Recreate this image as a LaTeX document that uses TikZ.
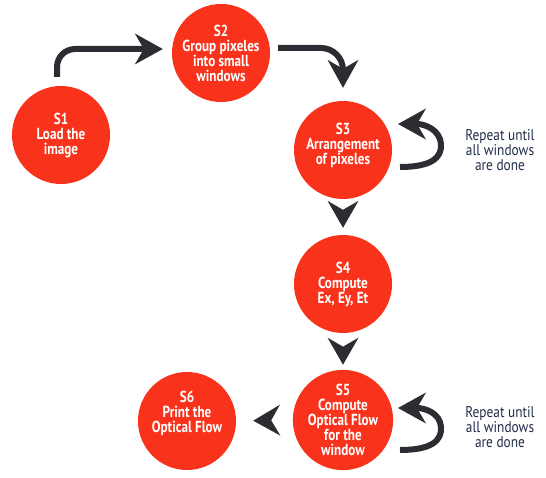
\documentclass[tikz,border=0pt]{standalone}
\usepackage{fontspec}
\setmainfont{PT Sans}[FakeStretch=0.82]
\newfontfamily\labelfont{PT Sans}[FakeStretch=0.86]
\usetikzlibrary{arrows.meta,calc,decorations.markings}
\definecolor{stepred}{HTML}{F9321C}
\definecolor{arrowdark}{HTML}{2B2D33}
\definecolor{labelblue}{HTML}{1F2B48}
\tikzset{
  stepnode/.style={circle,fill=stepred,draw=none,minimum size=98pt,inner sep=0pt,
    text=white,align=center,font=\fontsize{16}{15}\selectfont\bfseries},
  conn/.style={draw=arrowdark,line width=6pt,
    -{Stealth[length=28pt,width=31pt,inset=9pt,line width=0pt]}},
  headonly/.style={decoration={markings,
    mark=at position -#1 with {\arrow[arrowdark]{Stealth[length=27pt,width=31pt,inset=9pt,line width=0pt]}}},
    decorate},
  notetext/.style={text=labelblue,align=center,font=\labelfont\fontsize{15.5}{15}\selectfont}
}
\begin{document}
\begin{tikzpicture}[x=1pt,y=-1pt]
\useasboundingbox (0,0) rectangle (546,478);
\node[stepnode] (s1) at (61,135) {S1\\Load the\\image};
\node[stepnode] (s2) at (221,53) {S2\\Group pixeles\\into small\\windows};
\node[stepnode,text depth=12pt] (s3) at (343,150) {S3\\Arrangement\\of pixeles};
\node[stepnode] (s4) at (343,284) {S4\\Compute\\Ex, Ey, Et};
\node[stepnode] (s5) at (343,420) {S5\\Compute\\Optical Flow\\for the\\window};
\node[stepnode,text depth=18pt] (s6) at (187,421) {S6\\Print the\\Optical Flow};
\node[notetext] (n3) at (500,150) {Repeat until\\all windows\\are done};
\node[notetext] (n5) at (500,427) {Repeat until\\all windows\\are done};
% S1 -> S2
\draw[conn,rounded corners=18pt] ($(s1.north)+(-4,-9)$) |- ($(s2.west)+(-9,-4)$);
% S2 -> S3
\draw[conn,rounded corners=22pt] ($(s2.east)+(8,-5)$) -| ($(s3.north)+(0,-13)$);
% S3 loop
\draw[conn] ($(s3)+(57,17)$) .. controls ($(s3)+(88,17)$) and ($(s3)+(99,8)$) .. ($(s3)+(98,-6)$)
  .. controls ($(s3)+(97,-20)$) and ($(s3)+(82,-26)$) .. ($(s3)+(55,-26)$);
% S5 loop
\draw[conn] ($(s5)+(57,30)$) .. controls ($(s5)+(88,30)$) and ($(s5)+(99,21)$) .. ($(s5)+(98,7)$)
  .. controls ($(s5)+(97,-7)$) and ($(s5)+(82,-12)$) .. ($(s5)+(55,-12)$);
% arrowheads only
\path[headonly=7pt] (s3.south) -- (s4.north);
\path[headonly=5pt] (s4.south) -- (s5.north);
\path[headonly=17pt] (s5.west) -- (s6.east);
\end{tikzpicture}
\end{document}
